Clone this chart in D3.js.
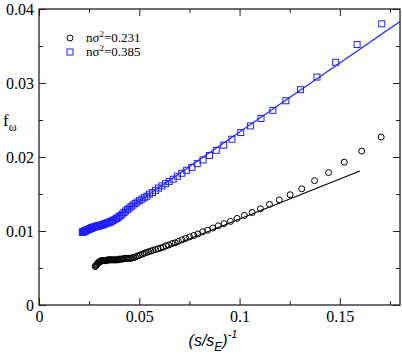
<!DOCTYPE html>
<html>
<head>
<meta charset="utf-8">
<script src="https://cdn.jsdelivr.net/npm/d3@7"></script>
<style>
  html, body { margin: 0; padding: 0; background: #fff; }
  svg { display: block; }
</style>
</head>
<body>
<div id="chart"></div>
<script>
// black circles, n sigma^2 = 0.231
var blackX = [0.1706, 0.1609, 0.1522, 0.1444, 0.1374, 0.1310, 0.1252, 0.1198, 0.1149, 0.1104,
  0.1063, 0.1024, 0.0988, 0.0955, 0.0923, 0.0894, 0.0867, 0.0841, 0.0816, 0.0793,
  0.0772, 0.0751, 0.0732, 0.0713, 0.0695, 0.0679, 0.0663, 0.0647, 0.0633, 0.0619,
  0.0606, 0.0593, 0.0581, 0.0569, 0.0558, 0.0547, 0.0536, 0.0526, 0.0517, 0.0507,
  0.0499, 0.0490, 0.0481, 0.0473, 0.0466, 0.0458, 0.0451, 0.0444, 0.0437, 0.0430,
  0.0424, 0.0417, 0.0411, 0.0405, 0.0400, 0.0394, 0.0389, 0.0383, 0.0378, 0.0373,
  0.0368, 0.0363, 0.0359, 0.0354, 0.0350, 0.0346, 0.0341, 0.0337, 0.0333, 0.0329,
  0.0326, 0.0322, 0.0318, 0.0315, 0.0311, 0.0308, 0.0305, 0.0301, 0.0298, 0.0295,
  0.0292, 0.0289, 0.0286, 0.0283, 0.0280];
var blackY = [0.0227, 0.0208, 0.0193, 0.0179, 0.0168, 0.0157, 0.0149, 0.0142, 0.0136, 0.0130,
  0.0125, 0.0121, 0.0117, 0.0113, 0.0110, 0.0107, 0.0104, 0.0101, 0.0099, 0.0096,
  0.0094, 0.0092, 0.0090, 0.0088, 0.0086, 0.0084, 0.0083, 0.0081, 0.0080, 0.0078,
  0.0077, 0.0076, 0.0075, 0.0074, 0.0073, 0.0072, 0.0071, 0.0070, 0.0069, 0.0068,
  0.0067, 0.0066, 0.0065, 0.0064, 0.0064, 0.0063, 0.0063, 0.0063, 0.0063, 0.0063,
  0.0063, 0.0062, 0.0062, 0.0062, 0.0062, 0.0061, 0.0061, 0.0061, 0.0061, 0.0061,
  0.0061, 0.0061, 0.0061, 0.0061, 0.0061, 0.0061, 0.0061, 0.0060, 0.0060, 0.0060,
  0.0060, 0.0060, 0.0060, 0.0060, 0.0060, 0.0059, 0.0059, 0.0058, 0.0058, 0.0057,
  0.0056, 0.0055, 0.0054, 0.0053, 0.0052];

// blue squares, n sigma^2 = 0.385
var blueX = [0.1709, 0.1586, 0.1479, 0.1386, 0.1304, 0.1231, 0.1166, 0.1107, 0.1054, 0.1006,
  0.0962, 0.0921, 0.0884, 0.0850, 0.0818, 0.0789, 0.0762, 0.0736, 0.0712, 0.0690,
  0.0669, 0.0649, 0.0631, 0.0613, 0.0596, 0.0581, 0.0566, 0.0551, 0.0538, 0.0525,
  0.0513, 0.0501, 0.0490, 0.0479, 0.0469, 0.0459, 0.0450, 0.0441, 0.0432, 0.0424,
  0.0416, 0.0408, 0.0401, 0.0393, 0.0387, 0.0380, 0.0373, 0.0367, 0.0361, 0.0355,
  0.0350, 0.0344, 0.0339, 0.0334, 0.0329, 0.0324, 0.0319, 0.0315, 0.0310, 0.0306,
  0.0302, 0.0298, 0.0294, 0.0290, 0.0286, 0.0282, 0.0279, 0.0275, 0.0272, 0.0268,
  0.0265, 0.0262, 0.0259, 0.0256, 0.0253, 0.0250, 0.0247, 0.0245, 0.0242, 0.0239,
  0.0237, 0.0234, 0.0232, 0.0229, 0.0227, 0.0225, 0.0222, 0.0220, 0.0218, 0.0216];
var blueY = [0.0380, 0.0352, 0.0328, 0.0308, 0.0291, 0.0276, 0.0263, 0.0252, 0.0242, 0.0233,
  0.0224, 0.0216, 0.0209, 0.0202, 0.0196, 0.0191, 0.0186, 0.0182, 0.0178, 0.0174,
  0.0170, 0.0167, 0.0164, 0.0161, 0.0158, 0.0155, 0.0152, 0.0150, 0.0147, 0.0145,
  0.0143, 0.0141, 0.0139, 0.0137, 0.0135, 0.0133, 0.0131, 0.0129, 0.0127, 0.0125,
  0.0123, 0.0121, 0.0120, 0.0118, 0.0117, 0.0116, 0.0115, 0.0114, 0.0113, 0.0112,
  0.0112, 0.0111, 0.0111, 0.0110, 0.0110, 0.0109, 0.0109, 0.0108, 0.0108, 0.0108,
  0.0107, 0.0107, 0.0107, 0.0107, 0.0106, 0.0106, 0.0106, 0.0105, 0.0105, 0.0105,
  0.0104, 0.0104, 0.0104, 0.0103, 0.0103, 0.0103, 0.0102, 0.0102, 0.0102, 0.0101,
  0.0101, 0.0101, 0.0100, 0.0100, 0.0100, 0.0099, 0.0099, 0.0099, 0.0099, 0.0098];

// straight fits, [x, y] end points
var blackFit = [[0.060, 0.0073], [0.160, 0.0181]];
var blueFit = [[0.030, 0.0103], [0.1805, 0.0384]];

var xMajor = [0, 0.05, 0.1, 0.15];
var xMinor = [0.025, 0.075, 0.125, 0.175];
var xLabels = ['0', '0.05', '0.1', '0.15'];
var yMajor = [0, 0.01, 0.02, 0.03, 0.04];
var yMinor = [0.005, 0.015, 0.025, 0.035];
var yLabels = ['0', '0.01', '0.02', '0.03', '0.04'];

var legendNames = ['0.231', '0.385'];

(function () {
  var W = 402, H = 357
    , margin = {left: 39, right: 2, top: 9, bottom: 52}
    , serif = '"Times New Roman", "Liberation Serif", Times, serif'
    , sans = 'Arial, "Liberation Sans", sans-serif'
    , blue = '#1f1fff'
  ;

  var x = d3.scaleLinear().domain([0, 0.18]).range([margin.left, W - margin.right]);
  var y = d3.scaleLinear().domain([0, 0.04]).range([H - margin.bottom, margin.top]);

  var svg = d3.select('#chart').append('svg')
      .attr('width', W)
      .attr('height', H);

  svg.append('defs').append('clipPath').attr('id', 'plot-clip')
    .append('rect')
      .attr('x', x(0)).attr('y', y(0.04))
      .attr('width', x(0.18) - x(0)).attr('height', y(0) - y(0.04));

  //
  // axes, all ticks pointing inward
  //
  function styleAxis(g) {
    g.select('.domain').remove();
    g.selectAll('line').attr('stroke', '#222').attr('stroke-width', 1);
    g.selectAll('text').attr('fill', '#000')
      .style('font-family', serif).style('font-size', '16px');
  }

  svg.append('g').attr('transform', 'translate(0,' + y(0) + ')')
    .call(d3.axisBottom(x).tickValues(xMajor).tickSize(-7).tickPadding(6)
      .tickFormat(function (d, i) { return xLabels[i]; }))
    .call(styleAxis);
  svg.append('g').attr('transform', 'translate(0,' + y(0) + ')')
    .call(d3.axisBottom(x).tickValues(xMinor).tickSize(-4).tickFormat(''))
    .call(styleAxis);
  svg.append('g').attr('transform', 'translate(0,' + y(0.04) + ')')
    .call(d3.axisTop(x).tickValues(xMajor).tickSize(-7).tickFormat(''))
    .call(styleAxis);
  svg.append('g').attr('transform', 'translate(0,' + y(0.04) + ')')
    .call(d3.axisTop(x).tickValues(xMinor).tickSize(-4).tickFormat(''))
    .call(styleAxis);

  svg.append('g').attr('transform', 'translate(' + x(0) + ',0)')
    .call(d3.axisLeft(y).tickValues(yMajor).tickSize(-7).tickPadding(5)
      .tickFormat(function (d, i) { return yLabels[i]; }))
    .call(styleAxis);
  svg.append('g').attr('transform', 'translate(' + x(0) + ',0)')
    .call(d3.axisLeft(y).tickValues(yMinor).tickSize(-4).tickFormat(''))
    .call(styleAxis);
  svg.append('g').attr('transform', 'translate(' + x(0.18) + ',0)')
    .call(d3.axisRight(y).tickValues(yMajor).tickSize(-7).tickFormat(''))
    .call(styleAxis);
  svg.append('g').attr('transform', 'translate(' + x(0.18) + ',0)')
    .call(d3.axisRight(y).tickValues(yMinor).tickSize(-4).tickFormat(''))
    .call(styleAxis);

  // frame
  svg.append('rect')
    .attr('x', x(0)).attr('y', y(0.04))
    .attr('width', x(0.18) - x(0)).attr('height', y(0) - y(0.04))
    .attr('fill', 'none').attr('stroke', '#222').attr('stroke-width', 1.3);

  //
  // fits
  //
  var line = d3.line().x(function (d) { return x(d[0]); }).y(function (d) { return y(d[1]); });
  var plot = svg.append('g').attr('clip-path', 'url(#plot-clip)');

  plot.append('path').datum(blackFit).attr('d', line)
    .attr('fill', 'none').attr('stroke', '#000').attr('stroke-width', 1.1);
  plot.append('path').datum(blueFit).attr('d', line)
    .attr('fill', 'none').attr('stroke', blue).attr('stroke-width', 1.1);

  //
  // markers
  //
  plot.selectAll('circle.black').data(blackX).enter().append('circle')
    .attr('class', 'black')
    .attr('cx', function (d) { return x(d); })
    .attr('cy', function (d, i) { return y(blackY[i]); })
    .attr('r', 3)
    .attr('fill', 'none').attr('stroke', '#000').attr('stroke-width', 1);

  var s = 6;
  plot.selectAll('rect.blue').data(blueX).enter().append('rect')
    .attr('class', 'blue')
    .attr('x', function (d) { return x(d) - s / 2; })
    .attr('y', function (d, i) { return y(blueY[i]) - s / 2; })
    .attr('width', s).attr('height', s)
    .attr('fill', 'none').attr('stroke', blue).attr('stroke-width', 1);

  //
  // legend
  //
  var leg = svg.append('g');
  leg.append('circle').attr('cx', 70).attr('cy', 38).attr('r', 3)
    .attr('fill', 'none').attr('stroke', '#000').attr('stroke-width', 1);
  leg.append('rect').attr('x', 70 - s / 2).attr('y', 52 - s / 2).attr('width', s).attr('height', s)
    .attr('fill', 'none').attr('stroke', blue).attr('stroke-width', 1);

  legendNames.forEach(function (name, i) {
    var t = leg.append('text')
      .attr('x', 86).attr('y', 42 + i * 14)
      .style('font-family', serif).style('font-size', '13px').attr('fill', '#000');
    t.append('tspan').text('nσ');
    t.append('tspan').attr('dy', -5).style('font-size', '9px').text('2');
    t.append('tspan').attr('dy', 5).text('=' + name);
  });

  //
  // axis titles
  //
  var xt = svg.append('text')
    .attr('x', 213).attr('y', 346)
    .attr('text-anchor', 'middle')
    .style('font-family', sans).style('font-size', '16px').style('font-style', 'italic')
    .attr('fill', '#000');
  xt.append('tspan').text('(s/s');
  xt.append('tspan').attr('dy', 5).style('font-size', '12px').text('E');
  xt.append('tspan').attr('dy', -5).text(')');
  xt.append('tspan').attr('dy', -8).style('font-size', '11px').text('-1');

  var yt = svg.append('text')
    .attr('x', 3).attr('y', 126)
    .style('font-family', serif).style('font-size', '17px').attr('fill', '#000');
  yt.append('tspan').text('f');
  yt.append('tspan').attr('dy', 5).style('font-size', '12px').text('ω');
})();
</script>
</body>
</html>
